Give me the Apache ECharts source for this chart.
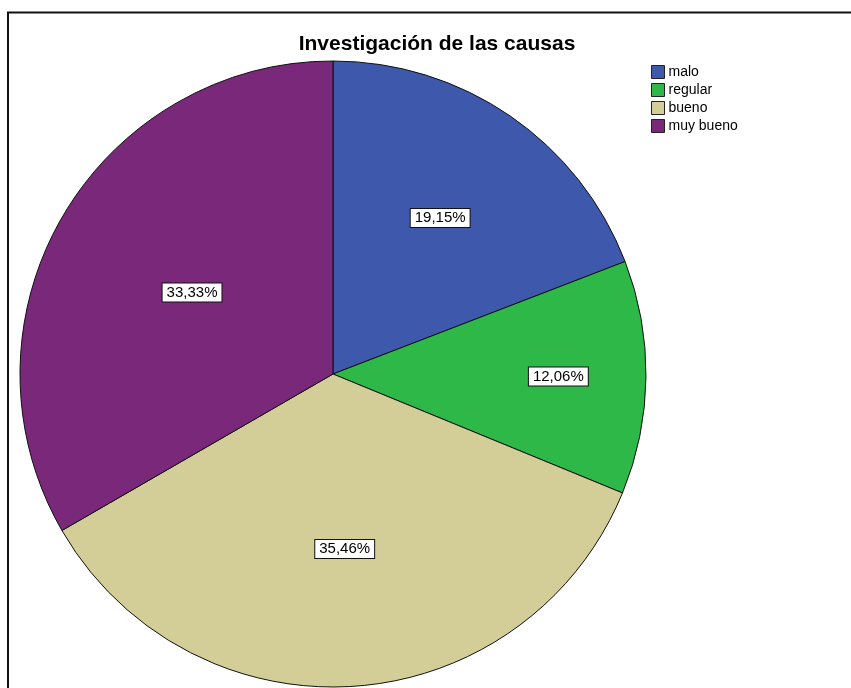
<!DOCTYPE html>
<html>
<head>
<meta charset="utf-8">
<script src="https://cdn.jsdelivr.net/npm/echarts@6/dist/echarts.min.js"></script>
<style>
  html, body { margin: 0; padding: 0; background: #fff; }
  #chart { width: 851px; height: 688px; }
</style>
</head>
<body>
<div id="chart"></div>
<script>
const titleText = 'Investigación de las causas';
const categories = ['malo', 'regular', 'bueno', 'muy bueno'];
const counts = [27, 17, 50, 47];
const colors = ['#3E58AC', '#2EB848', '#D3CE97', '#7A287A'];

const CX = 333, CY = 374, R = 313;
// label distance from centre as fraction of radius (style only)
const labelRatios = [0.605, 0.72, 0.56, 0.52];

const chart = echarts.init(document.getElementById('chart'), null, { renderer: 'canvas' });

const option = {
  backgroundColor: '#ffffff',
  animation: false,
  title: {
    text: titleText,
    left: 437,
    top: 34,
    textAlign: 'center',
    padding: 0,
    textStyle: { fontFamily: 'Liberation Sans, Arial, sans-serif', fontSize: 21, fontWeight: 'bold', color: '#000' }
  },
  legend: {
    orient: 'vertical',
    left: 651,
    top: 65,
    padding: 0,
    itemWidth: 13,
    itemHeight: 13,
    itemGap: 4,
    icon: 'rect',
    data: categories,
    textStyle: { fontFamily: 'Liberation Sans, Arial, sans-serif', fontSize: 14, color: '#000', padding: [0, 0, 0, -1] },
    itemStyle: { borderColor: '#222', borderWidth: 1 }
  },
  graphic: [{
    type: 'polyline',
    shape: { points: [[8, 700], [8, 12.5], [860, 12.5]] },
    style: { stroke: '#111', lineWidth: 2, fill: null },
    z: 100
  }],
  series: [{
    type: 'pie',
    center: [CX, CY],
    radius: [0, R],
    startAngle: 90,
    clockwise: true,
    avoidLabelOverlap: false,
    data: categories.map((c, i) => ({ name: c, value: counts[i], itemStyle: { color: colors[i] } })),
    itemStyle: { borderColor: '#111', borderWidth: 1 },
    label: {
      show: true,
      position: 'inside',
      formatter: p => p.percent.toFixed(2).replace('.', ',') + '%',
      fontFamily: 'Liberation Sans, Arial, sans-serif',
      fontSize: 15,
      color: '#000',
      backgroundColor: '#fff',
      borderColor: '#111',
      borderWidth: 1,
      padding: [2, 4, 1, 4]
    },
    percentPrecision: 2,
    labelLine: { show: false },
    emphasis: { disabled: true },
    labelLayout: function (params) {
      const r = params.labelRect;
      const lx = r.x + r.width / 2, ly = r.y + r.height / 2;
      const dx = lx - CX, dy = ly - CY;
      const d = Math.sqrt(dx * dx + dy * dy) || 1;
      const k = (R * labelRatios[params.dataIndex]) / d;
      return { x: CX + dx * k, y: CY + dy * k };
    }
  }]
};
chart.setOption(option);
</script>
</body>
</html>
